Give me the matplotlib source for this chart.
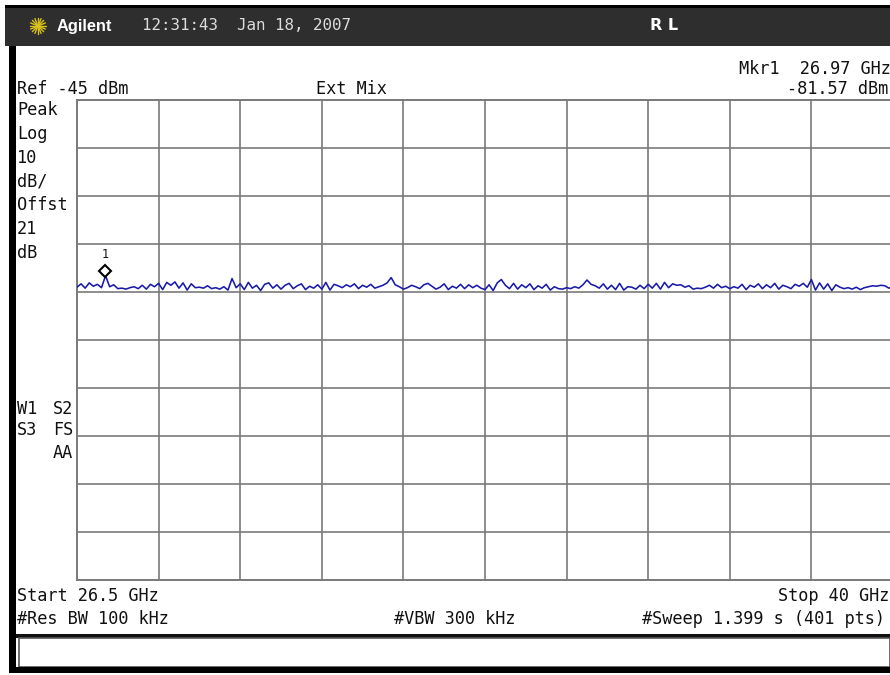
import numpy as np
import matplotlib
matplotlib.use("Agg")
import matplotlib.pyplot as plt
from matplotlib.patches import Rectangle
import matplotlib.transforms as mtransforms

# ---- data ----
start_ghz = 26.5
stop_ghz = 40.0
ref_level = -45.0
db_per_div = 10.0
marker_freq = 26.97
marker_level = -81.57

trace_dbm = [
    -84.0, -83.3, -84.2, -83.1, -83.8, -83.4, -84.1, -81.6, -83.9, -83.5,
    -84.3, -84.2, -84.4, -84.1, -83.9, -84.3, -83.6, -84.4, -83.4, -83.9,
    -83.2, -84.5, -83.0, -83.6, -82.9, -84.2, -83.1, -84.6, -83.3, -84.1,
    -84.0, -84.2, -83.7, -84.3, -84.1, -84.4, -83.9, -84.6, -82.2, -84.1,
    -83.3, -84.5, -83.0, -84.2, -83.6, -84.7, -83.4, -83.1, -84.2, -83.5,
    -84.4, -83.6, -83.2, -84.3, -83.7, -83.3, -84.5, -83.8, -84.2, -83.5,
    -84.4, -83.0, -84.6, -83.4, -83.7, -84.1, -83.5, -83.9, -83.3, -84.3,
    -83.6, -84.0, -83.4, -84.2, -83.9, -83.6, -83.1, -82.0, -83.5, -83.9,
    -84.4, -84.1, -83.6, -83.9, -84.3, -83.5, -83.2, -83.8, -84.4, -84.0,
    -83.3, -84.5, -83.8, -84.2, -83.4, -84.3, -83.5, -84.1, -83.6, -84.2,
    -84.5, -83.5, -84.7, -83.1, -82.4, -83.6, -84.3, -83.2, -84.4, -83.5,
    -84.1, -83.3, -84.5, -83.7, -84.2, -83.4, -84.6, -83.9, -84.3, -84.4,
    -84.1, -84.3, -83.9, -84.2, -83.5, -82.5, -83.4, -83.7, -84.2, -83.3,
    -84.4, -83.6, -84.5, -83.2, -84.6, -83.9, -84.0, -84.4, -83.6, -84.3,
    -83.4, -84.2, -83.2, -84.4, -83.0, -84.1, -83.3, -83.6, -83.5, -84.0,
    -83.7, -84.4, -84.2, -84.3, -84.0, -83.6, -84.2, -83.4, -84.1, -83.8,
    -84.3, -83.9, -84.2, -83.4, -84.5, -83.6, -84.0, -83.3, -84.3, -83.5,
    -84.1, -83.2, -84.4, -83.6, -83.9, -84.3, -83.4, -83.8, -83.2, -84.0,
    -82.4, -84.6, -83.1, -84.4, -83.3, -84.7, -83.5, -84.0, -84.3, -84.1,
    -84.4, -84.0, -84.5, -84.1, -83.9, -83.7, -83.8, -83.6, -83.7, -84.2,
    -83.9,
]

header_time = "12:31:43  Jan 18, 2007"
left_labels = ["Peak", "Log", "10", "dB/", "Offst", "21", "dB"]

W, H = 890, 675
fig = plt.figure(figsize=(W / 100, H / 100), dpi=100)
fig.patch.set_facecolor("white")

MONO = "DejaVu Sans Mono"
FS = 12.2
TXT = "#111111"

# background / decoration axes in pixel coordinates
bg = fig.add_axes([0, 0, 1, 1])
bg.set_xlim(0, W)
bg.set_ylim(H, 0)
bg.axis("off")
bg.set_zorder(0)

# header band
bg.add_patch(Rectangle((5, 6), W - 5, 40, facecolor="#2e2e2e", edgecolor="none"))
bg.add_patch(Rectangle((5, 5), W - 5, 3, facecolor="#000000", edgecolor="none"))
# left black stripe
bg.add_patch(Rectangle((9, 46), 7, 627, facecolor="#000000", edgecolor="none"))
# bottom status box
bg.add_patch(Rectangle((16, 634), W - 16, 4, facecolor="#111111", edgecolor="none"))
bg.add_patch(Rectangle((19, 638), W - 19, 29, facecolor="white", edgecolor="#555555", lw=1.2))
bg.add_patch(Rectangle((9, 667), W - 9, 6, facecolor="#000000", edgecolor="none"))

# logo starburst
cx, cy = 38, 26
for ang in np.arange(0, 180, 22.5):
    a = np.deg2rad(ang)
    bg.plot([cx - 8 * np.cos(a), cx + 8 * np.cos(a)],
            [cy - 8 * np.sin(a), cy + 8 * np.sin(a)],
            color="#d8c21a", lw=1.0, solid_capstyle="round")
bg.text(57, 26, "Agilent", family="Liberation Sans", weight="bold", fontsize=11.8,
        color="white", va="center", ha="left")
bg.text(142, 26, header_time, family=MONO, fontsize=11.4, color="#dcdcdc",
        va="center", ha="left")
bg.text(664, 26, "R L", family="DejaVu Sans", weight="bold", fontsize=11.5,
        color="white", va="center", ha="center")

# upper annotation texts
bg.text(891, 69, "Mkr1  %.2f GHz" % marker_freq, family=MONO, fontsize=FS,
        va="center", ha="right", color=TXT)
bg.text(888, 89, "%.2f dBm" % marker_level, family=MONO, fontsize=FS,
        va="center", ha="right", color=TXT)
bg.text(17, 89, "Ref %d dBm" % ref_level, family=MONO, fontsize=FS,
        va="center", ha="left", color=TXT)
bg.text(351, 89, "Ext Mix", family=MONO, fontsize=FS, va="center", ha="center",
        color=TXT)

for i, lab in enumerate(left_labels):
    bg.text(17, 110 + i * 23.8, lab, family=MONO, fontsize=FS, va="center",
            ha="left", color=TXT)

bg.text(17, 409, "W1", family=MONO, fontsize=FS, va="center", ha="left", color=TXT)
bg.text(73, 409, "S2", family=MONO, fontsize=FS, va="center", ha="right", color=TXT)
bg.text(17, 430, "S3", family=MONO, fontsize=FS, va="center", ha="left", color=TXT)
bg.text(73, 430, "FS", family=MONO, fontsize=FS, va="center", ha="right", color=TXT)
bg.text(73, 453, "AA", family=MONO, fontsize=FS, va="center", ha="right", color=TXT)

# lower texts
bg.text(17, 596, "Start %.1f GHz" % start_ghz, family=MONO, fontsize=FS,
        va="center", ha="left", color=TXT)
bg.text(889, 596, "Stop %d GHz" % stop_ghz, family=MONO, fontsize=FS,
        va="center", ha="right", color=TXT)
bg.text(17, 619, "#Res BW 100 kHz", family=MONO, fontsize=FS, va="center",
        ha="left", color=TXT)
bg.text(515, 619, "#VBW 300 kHz", family=MONO, fontsize=FS, va="center",
        ha="right", color=TXT)
bg.text(885, 619, "#Sweep 1.399 s (401 pts)", family=MONO, fontsize=FS,
        va="center", ha="right", color=TXT)

# ---- main graticule axes ----
ax = fig.add_axes([77 / W, 95 / H, 816 / W, 480 / H])
ax.set_zorder(1)
ax.patch.set_facecolor("white")
ax.set_xlim(start_ghz, stop_ghz)
ax.set_ylim(ref_level - 10 * db_per_div, ref_level)
ax.set_xticks(np.linspace(start_ghz, stop_ghz, 11))
ax.set_yticks(np.linspace(ref_level - 10 * db_per_div, ref_level, 11))
ax.tick_params(length=0, labelbottom=False, labelleft=False)
ax.grid(True, color="#7a7a7a", lw=1.2)
for s in ax.spines.values():
    s.set_color("#7a7a7a")
    s.set_linewidth(1.4)

freqs = np.linspace(start_ghz, stop_ghz, len(trace_dbm))
ax.plot(freqs, trace_dbm, color="#1a1aaa", lw=1.15, zorder=3)

# marker diamond sitting on the trace point
off = mtransforms.offset_copy(ax.transData, fig=fig, x=0, y=3.2, units="points")
ax.plot([marker_freq], [marker_level], marker="D", ms=6.5, mfc="white",
        mec="black", mew=1.5, transform=off, zorder=4, clip_on=False)
ax.annotate("1", (marker_freq, marker_level), xytext=(0, 15),
            textcoords="offset points", ha="center", va="center",
            family=MONO, fontsize=8.5, color=TXT)

fig.savefig("out.png", dpi=100)
